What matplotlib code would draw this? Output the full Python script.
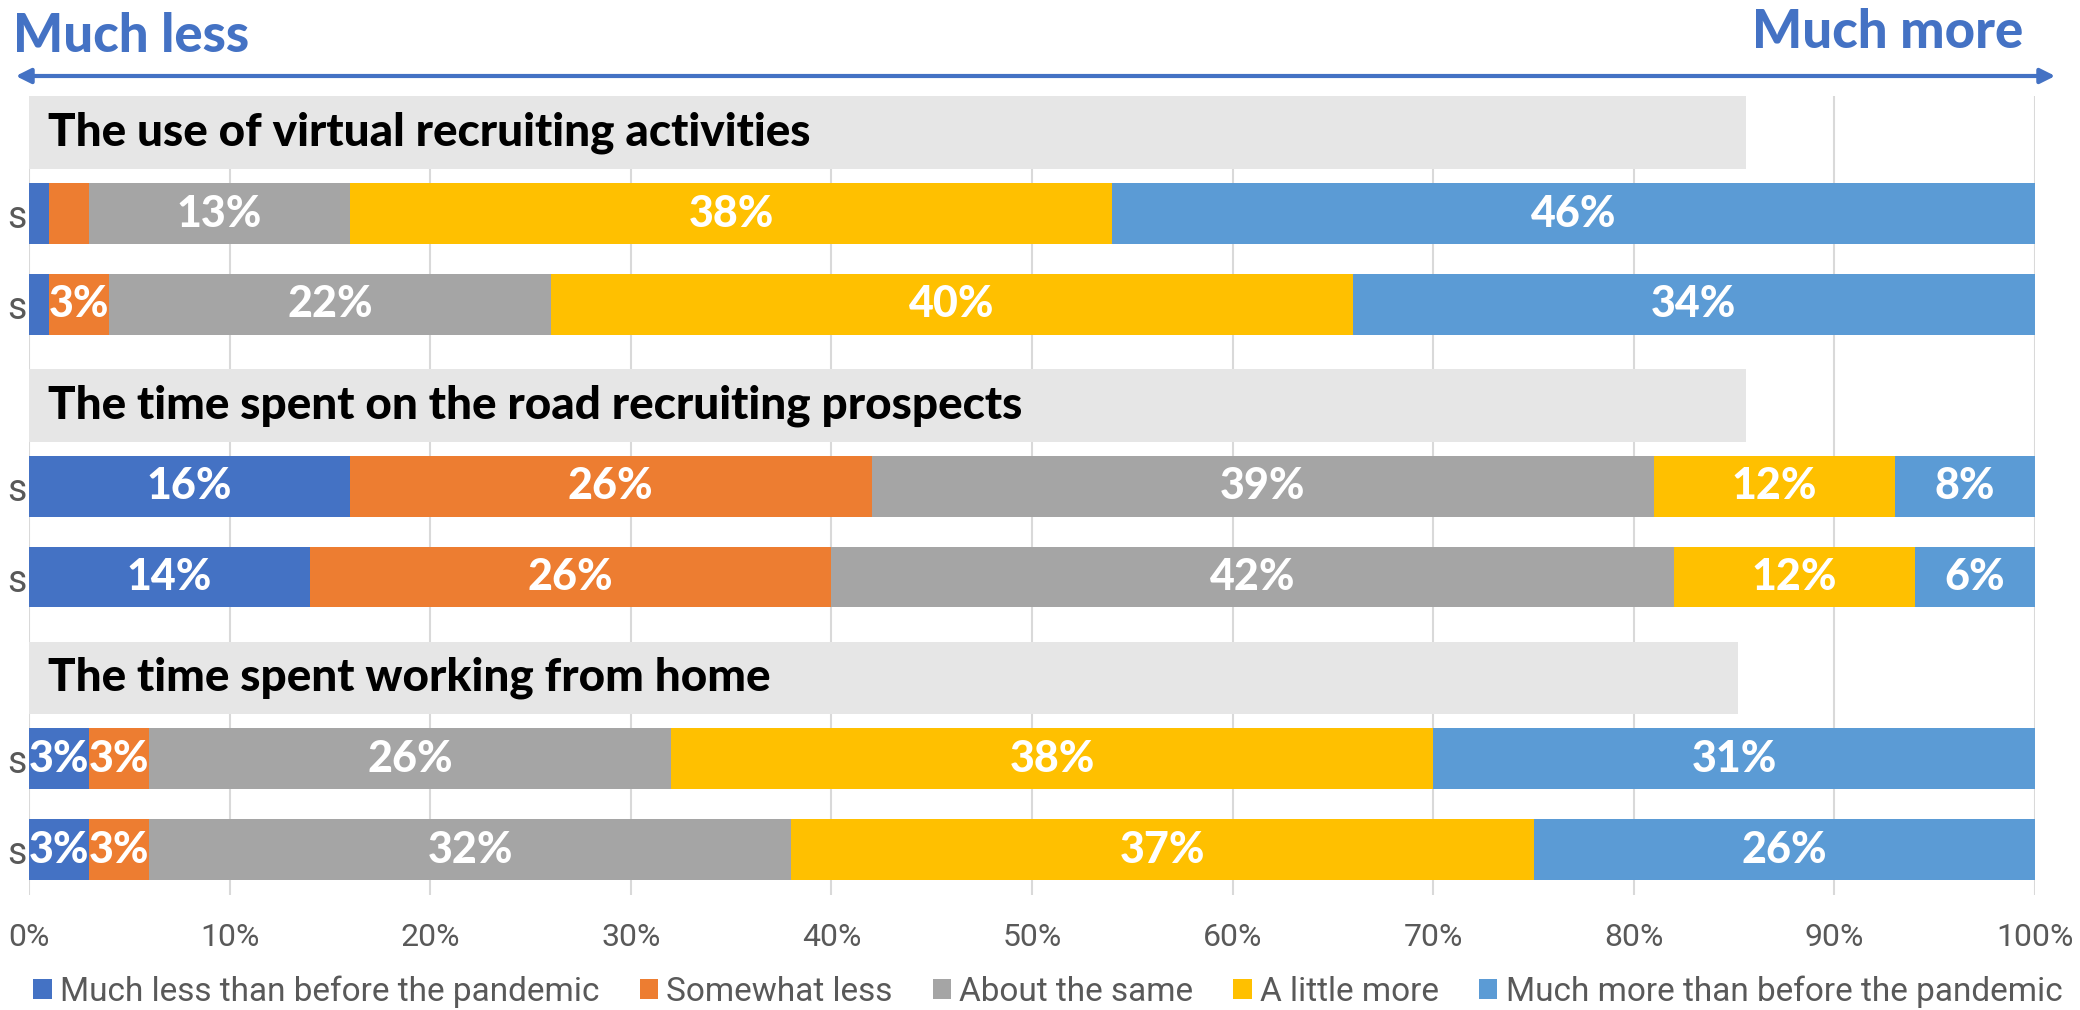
import matplotlib
matplotlib.use("Agg")
import matplotlib.pyplot as plt
from matplotlib.patches import Patch, Rectangle
import numpy as np

# ---------------- data ----------------
group_titles = ["The use of virtual recruiting activities",
                "The time spent on the road recruiting prospects",
                "The time spent working from home"]
row_labels = ["s", "s", "s", "s", "s", "s"]
series_names = ["Much less than before the pandemic", "Somewhat less",
                "About the same", "A little more",
                "Much more than before the pandemic"]
much_less     = [1, 1, 16, 14, 3, 3]
somewhat_less = [2, 3, 26, 26, 3, 3]
about_same    = [13, 22, 39, 42, 26, 32]
little_more   = [38, 40, 12, 12, 38, 37]
much_more     = [46, 34, 8, 6, 31, 26]
band_ends = [85.6, 85.6, 85.2]
xticks = [0, 10, 20, 30, 40, 50, 60, 70, 80, 90, 100]

colors = ["#4472C4", "#ED7D31", "#A5A5A5", "#FFC000", "#5B9BD5"]
series = [much_less, somewhat_less, about_same, little_more, much_more]

# --------------- layout ---------------
W, H = 2080, 1010
fig = plt.figure(figsize=(W / 100, H / 100), dpi=100)
ax = fig.add_axes([29 / W, 1 - 895 / H, (2035 - 29) / W, (895 - 95.5) / H])

bar_y = np.array([1, 2, 4, 5, 7, 8])
band_y = [0.11, 3.11, 6.11]
bar_h = 0.67
band_h = 0.8

heavy = dict(family=["Lato", "DejaVu Sans"], fontweight="black")
light = dict(family=["Roboto", "DejaVu Sans"])
gray_txt = "#595959"

left = np.zeros(len(bar_y))
for vals, col, name in zip(series, colors, series_names):
    vals = np.array(vals, dtype=float)
    ax.barh(bar_y, vals, left=left, height=bar_h, color=col,
            edgecolor="none", label=name, zorder=3)
    for y, l, v in zip(bar_y, left, vals):
        if v >= 3:
            cx = min(l + v / 2, (l + 100) / 2)
            ax.text(cx, y, f"{int(v)}%", ha="center", va="center",
                    color="white", fontsize=31, zorder=5, **heavy)
    left += vals

for yc, xe, title in zip(band_y, band_ends, group_titles):
    ax.add_patch(Rectangle((0, yc - band_h / 2), xe, band_h,
                           facecolor="#E6E6E6", edgecolor="none", zorder=4))
    ax.annotate(title, xy=(0, yc), xytext=(14, 0), textcoords="offset points",
                ha="left", va="center", fontsize=33, color="black",
                zorder=6, **heavy)

ax.set_xlim(0, 100)
ax.set_ylim(8.5, -0.3)
ax.set_xticks(xticks)
ax.set_xticklabels([f"{t}%" for t in xticks], fontsize=23, color=gray_txt,
                   **light)
ax.set_yticks(bar_y)
ax.set_yticklabels(row_labels, fontsize=27, color=gray_txt, **light)
ax.tick_params(axis="both", length=0)
ax.tick_params(axis="x", pad=20)
ax.tick_params(axis="y", pad=2)
ax.grid(axis="x", color="#D9D9D9", linewidth=1.5, zorder=0)
ax.set_axisbelow(True)
for s in ax.spines.values():
    s.set_visible(False)

# arrow and end captions
blue = "#4472C4"
fig.add_artist(matplotlib.patches.FancyArrowPatch(
    (13 / W, 1 - 76 / H), (2058 / W, 1 - 76 / H),
    transform=fig.transFigure, arrowstyle="<|-|>", mutation_scale=22,
    color=blue, linewidth=3))
fig.text(13 / W, 1 - 37 / H, "Much less", ha="left", va="center",
         fontsize=38, color=blue, **heavy)
fig.text(2023 / W, 1 - 33 / H, "Much more", ha="right", va="center",
         fontsize=38, color=blue, **heavy)

handles = [Patch(facecolor=c, edgecolor="none") for c in colors]
leg = fig.legend(handles, series_names, loc="center", ncol=5,
                 bbox_to_anchor=(1048 / W, 1 - 992 / H), frameon=False,
                 handlelength=0.55, handleheight=0.55, handletextpad=0.25,
                 columnspacing=1.2, borderaxespad=0,
                 prop=dict(family=["Roboto", "DejaVu Sans"], size=24))
for t in leg.get_texts():
    t.set_color(gray_txt)

fig.savefig("out.png", dpi=100)
